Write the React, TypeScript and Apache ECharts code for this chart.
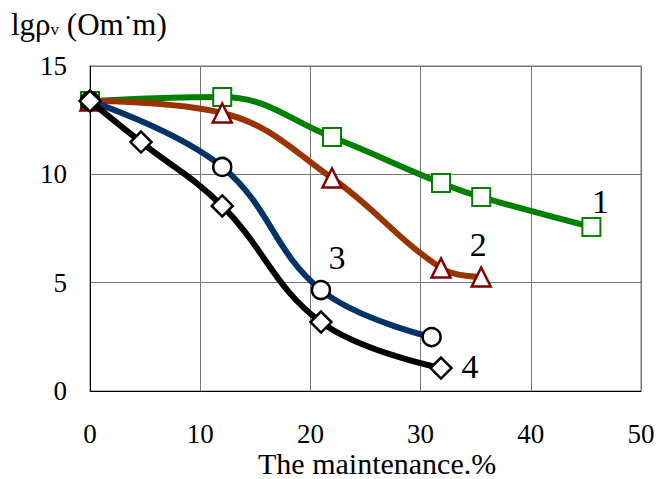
import React, { useEffect, useRef } from "react";
import * as echarts from "echarts";

const xTicks = [0, 10, 20, 30, 40, 50];
const yTicks = [0, 5, 10, 15];

const s1X = [0, 12.0, 21.96, 31.85, 35.5, 45.5];
const s1Y = [13.38, 13.57, 11.72, 9.6, 8.95, 7.57];

const s2X = [0, 12.0, 21.96, 31.85, 35.5];
const s2Y = [13.38, 12.83, 9.83, 5.68, 5.26];

const s3X = [0, 12.0, 20.96, 31.0];
const s3Y = [13.38, 10.34, 4.66, 2.49];

const s4X = [0, 4.63, 12.0, 20.96, 31.85];
const s4Y = [13.38, 11.49, 8.54, 3.18, 1.06];

const curveNames = ["1", "2", "3", "4"];

const FONT = "Liberation Serif";

function build(
  xs: number[],
  ys: number[],
  labelIndex: number,
  labelText: string,
  offset: [number, number]
) {
  return xs.map((x, i) => {
    const item: any = { value: [x, ys[i]] };
    if (i === labelIndex) {
      item.label = {
        show: true,
        formatter: labelText,
        position: "inside",
        offset,
        fontFamily: FONT,
        fontSize: 34,
        color: "#000",
      };
    }
    return item;
  });
}

export default function App() {
  const ref = useRef<HTMLDivElement>(null);
  useEffect(() => {
    document.body.style.margin = "0";
    if (!ref.current) return;
    const chart = echarts.init(ref.current, undefined, { renderer: "svg" });
    const common = {
      type: "line",
      smooth: 0.4,
      showAllSymbol: true,
      symbolSize: 18,
      label: { show: false },
      emphasis: { disabled: true },
    };
    chart.setOption({
      animation: false,
      backgroundColor: "#fff",
      grid: { left: 90, right: 18, top: 66, bottom: 88 },
      xAxis: {
        type: "value",
        min: 0,
        max: 50,
        interval: 10,
        axisLine: { show: true, lineStyle: { color: "#000", width: 1 } },
        axisTick: { show: false },
        axisLabel: {
          color: "#000",
          fontFamily: FONT,
          fontSize: 27,
          margin: 29,
          formatter: (v: number) => (xTicks.includes(v) ? String(v) : ""),
        },
        splitLine: { show: true, lineStyle: { color: "#777", width: 1 } },
      },
      yAxis: {
        type: "value",
        min: 0,
        max: 15,
        interval: 5,
        axisLine: { show: true, lineStyle: { color: "#000", width: 1 } },
        axisTick: { show: false },
        axisLabel: {
          color: "#000",
          fontFamily: FONT,
          fontSize: 27,
          margin: 23,
          formatter: (v: number) => (yTicks.includes(v) ? String(v) : ""),
        },
        splitLine: { show: true, lineStyle: { color: "#777", width: 1 } },
      },
      graphic: [
        {
          type: "rect",
          shape: { x: 90, y: 66, width: 551, height: 325 },
          style: { fill: "none", stroke: "#777", lineWidth: 1 },
          silent: true,
          z: -1,
        },
        {
          type: "text",
          left: 11,
          top: 4,
          style: {
            text: "{a|lgρ}{sub|v}{a| (Om}{sup|·}{a|m)}",
            fill: "#000",
            fontFamily: FONT,
            rich: {
              a: { fontFamily: FONT, fontSize: 31, fill: "#000" },
              sub: {
                fontFamily: FONT,
                fontSize: 17,
                fill: "#000",
                padding: [10, 0, 0, 0],
              },
              sup: {
                fontFamily: FONT,
                fontSize: 26,
                fill: "#000",
                padding: [0, 0, 14, 0],
              },
            },
          },
        },
        {
          type: "text",
          left: 258,
          top: 448,
          style: {
            text: "The maintenance.%",
            fontFamily: FONT,
            fontSize: 30,
            fill: "#000",
          },
        },
      ],
      series: [
        {
          ...common,
          name: curveNames[0],
          data: build(s1X, s1Y, s1X.length - 1, curveNames[0], [9, -25]),
          symbol: "rect",
          lineStyle: { color: "#008000", width: 6 },
          itemStyle: { color: "#fff", borderColor: "#008000", borderWidth: 2 },
          z: 2,
        },
        {
          ...common,
          name: curveNames[1],
          data: build(s2X, s2Y, s2X.length - 1, curveNames[1], [-3, -33]),
          symbol: "triangle",
          symbolSize: 19,
          lineStyle: { color: "#993300", width: 6 },
          itemStyle: { color: "#fff", borderColor: "#800000", borderWidth: 2.5 },
          z: 3,
        },
        {
          ...common,
          name: curveNames[2],
          data: build(s3X, s3Y, 2, curveNames[2], [16, -33]),
          symbol: "circle",
          lineStyle: { color: "#003366", width: 6 },
          itemStyle: { color: "#fff", borderColor: "#000", borderWidth: 2.5 },
          z: 4,
        },
        {
          ...common,
          name: curveNames[3],
          data: build(s4X, s4Y, s4X.length - 1, curveNames[3], [29, -2]),
          symbol: "diamond",
          symbolSize: 21,
          lineStyle: { color: "#000", width: 6 },
          itemStyle: { color: "#fff", borderColor: "#000", borderWidth: 2.5 },
          z: 5,
        },
      ],
    });
    return () => chart.dispose();
  }, []);
  return <div ref={ref} style={{ width: 659, height: 479 }} />;
}
